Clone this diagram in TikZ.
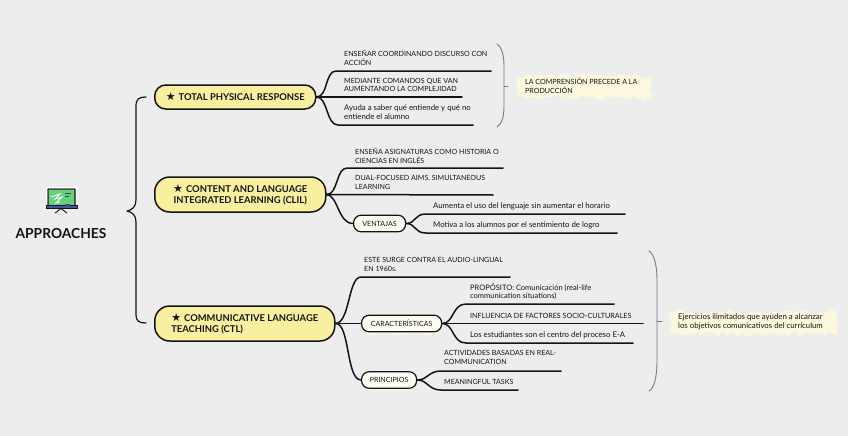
\documentclass[tikz,border=0pt]{standalone}
\usepackage{fontspec}
\setmainfont{Lato}
\newfontfamily\symf{DejaVu Sans}
\usetikzlibrary{decorations.pathmorphing}
\definecolor{bgc}{HTML}{EDEDED}
\definecolor{ink}{HTML}{141414}
\definecolor{yel}{HTML}{F9EFA0}
\definecolor{crm}{HTML}{FBF8DD}
\definecolor{pale}{HTML}{FDFCF3}
\definecolor{gry}{HTML}{7A7A7A}
\definecolor{board}{HTML}{62D27C}
\definecolor{barc}{HTML}{3F57A8}
\newcommand{\bigstarsym}{{\symf\fontsize{11}{11}\selectfont ★}}
\tikzset{
 x=1pt,y=-1pt,
 branch/.style={draw=ink,line width=1.5pt,line cap=round,line join=round},
 mainbox/.style={draw=ink,fill=yel,line width=1.5pt,rounded corners=11pt,minimum height=24pt,inner sep=0pt,anchor=west,text=ink,align=left,font=\fontsize{9.4}{11}\selectfont\bfseries},
 subbox/.style={draw=ink,fill=pale,line width=1.2pt,rounded corners=7.5pt,minimum height=16.5pt,inner sep=0pt,anchor=west,text=ink,font=\fontsize{7.1}{8}\selectfont},
 leaf/.style={anchor=west,inner sep=0pt,align=left,text=ink,font=\fontsize{7.1}{8.8}\selectfont},
 leaflow/.style={leaf,font=\fontsize{7.8}{8.8}\selectfont},
 grybrace/.style={draw=gry,line width=0.9pt,line cap=round},
 patch/.style={fill=crm,decorate,decoration={random steps,segment length=4pt,amplitude=2.4pt}},
}
\begin{document}
\begin{tikzpicture}
\useasboundingbox[fill=bgc] (0,0) rectangle (848,436);
\pgfmathsetseed{7}
% title and icon
\node[inner sep=0pt,text=ink,font=\fontsize{13.8}{16}\selectfont\bfseries] (title) at (61,234) {APPROACHES};
\fill[white,rounded corners=1pt] (46,187) rectangle (77,208.5);
\draw[ink,fill=black!70,rounded corners=1pt] (47.5,188.5) rectangle (75.5,206);
\fill[board] (49,190) rectangle (74,205.5);
\fill[barc] (46,205.5) rectangle (77,208.5);
\draw[ink,line width=.5pt] (46,205.5) rectangle (77,208.5);
\draw[white,line width=.9pt] (51,197) -- (60,194) -- (55,199) -- (62,197) -- (56,203) -- (60,202);
\draw[black!75,line width=1pt] (65,193.5) -- (71,193.5) (65,196.5) -- (69,196.5);
\fill[black!70] (65,203.5) rectangle (70,205.5);
\draw[ink,line width=.9pt] (55,213) -- (61,208.5) -- (67,213);
% main nodes
\node[mainbox,minimum width=161pt] (tpr) at (154,97) {\bigstarsym\hspace{3pt}TOTAL PHYSICAL RESPONSE};
\node[mainbox,minimum width=171pt,minimum height=35pt,rounded corners=15pt,align=center] (clil) at (154,194.5) {\bigstarsym\hspace{3pt}CONTENT AND LANGUAGE\\INTEGRATED LEARNING (CLIL)};
\node[mainbox,minimum width=180pt,minimum height=35pt,rounded corners=15pt] (ctl) at (154,323.5) {\bigstarsym\hspace{3pt}COMMUNICATIVE LANGUAGE\\TEACHING (CTL)};
% main brace
\coordinate (bt) at (127,211);
\coordinate (bu) at (146,97);
\coordinate (bd) at (146,323);
\draw[branch,line width=1.2pt] (bu) .. controls (139,97) and (136,99) .. (136,106) -- (136,200) .. controls (136,207) and (132,210) .. (bt) .. controls (132,212) and (136,215) .. (136,222) -- (136,315) .. controls (136,321) and (139,323) .. (bd);
% TPR branch
\coordinate (a1) at (336,71); \coordinate (a2) at (491,71);
\coordinate (a3) at (462,97);
\coordinate (a4) at (338,125); \coordinate (a5) at (473,125);
\draw[branch] (tpr.east) .. controls (328,97) and (325,71) .. (a1) -- (a2);
\draw[branch] (tpr.east) -- (a3);
\draw[branch] (tpr.east) .. controls (328,97) and (326,125) .. (a4) -- (a5);
\node[leaf] (t1) at (344,58) {ENSEÑAR COORDINANDO DISCURSO CON\\ACCIÓN};
\node[leaf] (t2) at (344,85) {MEDIANTE COMANDOS QUE VAN\\AUMENTANDO LA COMPLEJIDAD};
\node[leaflow] (t3) at (344,112.5) {Ayuda a saber qué entiende y qué no\\entiende el alumno};
% TPR note
\coordinate (g1) at (497,44); \coordinate (g2) at (497,127); \coordinate (g3) at (508,86);
\draw[grybrace] (g1) .. controls (502,47) and (504,56) .. (504,66) -- (504,106) .. controls (504,116) and (502,124) .. (g2);
\draw[grybrace] (504,86) -- (g3);
\fill[patch] (517,76) rectangle (651,98);
\node[leaf] (n1) at (525,85.5) {LA COMPRENSIÓN PRECEDE A LA\\PRODUCCIÓN};
% CLIL branch
\coordinate (c1) at (347,168); \coordinate (c2) at (503,168);
\coordinate (c3) at (493,195);
\node[subbox,minimum width=52pt] (vent) at (353,223.5) {VENTAJAS};
\draw[branch] (clil.east) .. controls (338,195) and (336,168) .. (c1) -- (c2);
\draw[branch] (clil.east) -- (c3);
\draw[branch] (clil.east) .. controls (338,195) and (338,223.5) .. (vent.west);
\node[leaf] (t4) at (355,155.5) {ENSEÑA ASIGNATURAS COMO HISTORIA O\\CIENCIAS EN INGLÉS};
\node[leaf] (t5) at (355,182.5) {DUAL-FOCUSED AIMS. SIMULTANEOUS\\LEARNING};
\coordinate (v1) at (426,214); \coordinate (v2) at (625,214);
\coordinate (v3) at (426,233); \coordinate (v4) at (617,233);
\draw[branch] (vent.east) .. controls (416,223.5) and (414,214) .. (v1) -- (v2);
\draw[branch] (vent.east) .. controls (416,223.5) and (414,233) .. (v3) -- (v4);
\node[leaflow] (t6) at (433,206) {Aumenta el uso del lenguaje sin aumentar el horario};
\node[leaflow] (t7) at (433,225.5) {Motiva a los alumnos por el sentimiento de logro};
% CTL branch
\coordinate (d1) at (361,277); \coordinate (d2) at (510,277);
\fill[patch,decoration={amplitude=1.2pt}] (368,326) rectangle (434,334.5);
\fill[patch,decoration={amplitude=1.2pt}] (368,382) rectangle (410,390.5);
\node[subbox,minimum width=80pt] (car) at (361,323.5) {CARACTERÍSTICAS};
\node[subbox,minimum width=55pt] (pri) at (361,380) {PRINCIPIOS};
\draw[branch] (ctl.east) .. controls (350,323) and (348,277) .. (d1) -- (d2);
\draw[branch] (ctl.east) -- (car.west);
\draw[branch] (ctl.east) .. controls (350,323) and (346,380) .. (pri.west);
\node[leaf] (t8) at (364,264.5) {ESTE SURGE CONTRA EL AUDIO-LINGUAL\\EN 1960s.};
\coordinate (e1) at (466,304); \coordinate (e2) at (614,304);
\coordinate (e3) at (643,323.5);
\coordinate (e4) at (466,343); \coordinate (e5) at (633,343);
\draw[branch] (car.east) .. controls (454,323.5) and (452,304) .. (e1) -- (e2);
\draw[branch] (car.east) -- (e3);
\draw[branch] (car.east) .. controls (454,323.5) and (452,343) .. (e4) -- (e5);
\node[leaf,font=\fontsize{7.5}{8.8}\selectfont] (t9) at (470,291.5) {PROPÓSITO: Comunicación (real-life\\communication situations)};
\node[leaf,font=\fontsize{7.2}{8.8}\selectfont] (t10) at (470,315.5) {INFLUENCIA DE FACTORES SOCIO-CULTURALES};
\node[leaflow] (t11) at (470,335.5) {Los estudiantes son el centro del proceso E-A};
\coordinate (f1) at (441,371); \coordinate (f2) at (561,371);
\coordinate (f3) at (441,390); \coordinate (f4) at (518,390);
\draw[branch] (pri.east) .. controls (428,380) and (428,371) .. (f1) -- (f2);
\draw[branch] (pri.east) .. controls (428,380) and (428,390) .. (f3) -- (f4);
\node[leaf] (t12) at (444,357.5) {ACTIVIDADES BASADAS EN REAL-\\COMMUNICATION};
\node[leaf] (t13) at (444,381.5) {MEANINGFUL TASKS};
% CTL note
\coordinate (h1) at (649,251); \coordinate (h2) at (649,391); \coordinate (h3) at (662,321);
\draw[grybrace] (h1) .. controls (654,254) and (657,265) .. (657,280) -- (657,360) .. controls (657,378) and (654,388) .. (h2);
\draw[grybrace] (657,321) -- (h3);
\fill[patch] (669,312) rectangle (837,334);
\node[leaflow] (n2) at (678,321.5) {Ejercicios ilimitados que ayuden a alcanzar\\los objetivos comunicativos del currículum};
\end{tikzpicture}
\end{document}
